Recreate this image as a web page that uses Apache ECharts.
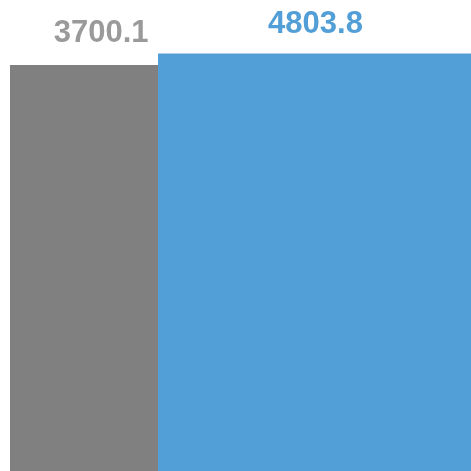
<!DOCTYPE html>
<html>
<head>
<meta charset="utf-8">
<script src="https://cdn.jsdelivr.net/npm/echarts@6/dist/echarts.min.js"></script>
<style>
  html, body { margin: 0; padding: 0; background: #fff; }
  #chart { width: 471px; height: 471px; }
</style>
</head>
<body>
<div id="chart"></div>
<script>
const categories = ['A', 'B']
const grayValues = [3700.1, '-']
const blueValues = ['-', 4803.8]

const chart = echarts.init(document.getElementById('chart'))

const labelStyle = (color, distance) => ({
  show: true,
  position: 'top',
  distance: distance,
  fontSize: 31,
  fontWeight: 'bold',
  fontFamily: 'Liberation Sans, Arial, sans-serif',
  color: color,
  formatter: (p) => p.value.toFixed(1)
})

const option = {
  backgroundColor: '#fff',
  animation: false,
  grid: {
    left: -5.95,
    width: 428.6,
    top: 41.04,
    height: 437.6,
    outerBoundsMode: 'none',
    containLabel: false
  },
  xAxis: [
    { type: 'category', data: categories, show: false },
    { type: 'category', data: categories, show: false }
  ],
  yAxis: {
    type: 'value',
    min: -36000,
    max: 6000,
    startValue: -36000,
    show: false
  },
  series: [
    {
      type: 'bar',
      xAxisIndex: 0,
      data: grayValues,
      barWidth: 182.4,
      clip: false,
      itemStyle: { color: '#808080' },
      label: labelStyle('#9a9a9a', 16)
    },
    {
      type: 'bar',
      xAxisIndex: 1,
      data: blueValues,
      barWidth: 315,
      clip: false,
      itemStyle: { color: '#529ed6' },
      label: labelStyle('#529ed6', 14)
    }
  ]
}

chart.setOption(option)
</script>
</body>
</html>
